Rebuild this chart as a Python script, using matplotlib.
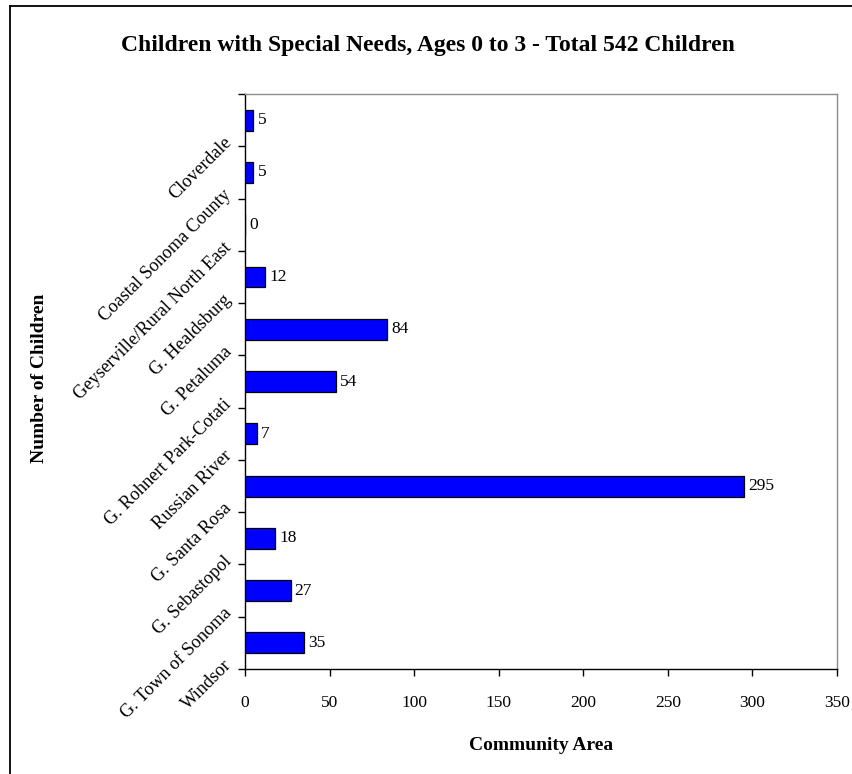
import matplotlib
matplotlib.use("Agg")
import matplotlib.pyplot as plt
from matplotlib.lines import Line2D
from matplotlib.transforms import offset_copy, blended_transform_factory
import numpy as np

categories = [
    "Cloverdale",
    "Coastal Sonoma County",
    "Geyserville/Rural North East",
    "G. Healdsburg",
    "G. Petaluma",
    "G. Rohnert Park-Cotati",
    "Russian River",
    "G. Santa Rosa",
    "G. Sebastopol",
    "G. Town of Sonoma",
    "Windsor",
]
children = [5, 5, 0, 12, 84, 54, 7, 295, 18, 27, 35]
x_ticks = [0, 50, 100, 150, 200, 250, 300, 350]

title = "Children with Special Needs, Ages 0 to 3 - Total 542 Children"
x_title = "Community Area"
y_title = "Number of Children"

plt.rcParams["font.family"] = ["Liberation Serif", "DejaVu Serif"]

fig = plt.figure(figsize=(8.52, 7.74), dpi=100)
ax = fig.add_axes([245 / 852, 1 - 669 / 774, (837 - 245) / 852, (669 - 94) / 774])

n = len(categories)
pos = np.arange(n)
ax.barh(pos, children, height=0.4, color="#0000FF", edgecolor="black", linewidth=0.9, zorder=3)

ax.set_xlim(0, 350)
ax.set_ylim(n - 0.5, -0.5)
ax.set_xticks(x_ticks)
ax.set_xticklabels([str(v) for v in x_ticks], fontsize=12.5)
ax.tick_params(axis="x", direction="out", length=5, width=1, pad=14, color="black")

# category boundaries carry the tick marks; names are drawn separately
ax.set_yticks(np.arange(n + 1) - 0.5)
ax.set_yticklabels([])
ax.tick_params(axis="y", direction="out", length=5, width=1, color="black")

for side in ("top", "right"):
    ax.spines[side].set_color("#8c8c8c")
    ax.spines[side].set_linewidth(1)
for side in ("left", "bottom"):
    ax.spines[side].set_color("black")
    ax.spines[side].set_linewidth(1)

# rotated category names
name_tr = offset_copy(blended_transform_factory(ax.transAxes, ax.transData),
                      fig=fig, x=-16 * 0.72, y=-20 * 0.72, units="points")
for p, name in zip(pos, categories):
    ax.text(0, p, name, transform=name_tr, rotation=45, rotation_mode="anchor",
            ha="right", va="center", fontsize=13.2, clip_on=False)

# value labels at the end of each bar
val_tr = offset_copy(ax.transData, fig=fig, x=4 * 0.72, y=0, units="points")
for p, v in zip(pos, children):
    ax.text(v, p, str(v), transform=val_tr, ha="left", va="center", fontsize=12.5)

fig.text(428 / 852, 1 - 46 / 774, title, ha="center", va="center",
         fontsize=17, fontweight="bold")
fig.text(541 / 852, 1 - 746 / 774, x_title, ha="center", va="center",
         fontsize=14, fontweight="bold")
fig.text(40 / 852, 1 - 378 / 774, y_title, ha="center", va="center",
         rotation=90, fontsize=14, fontweight="bold")

# outer frame (top and left edges)
fig.add_artist(Line2D([10 / 852, 1.0], [1 - 6 / 774, 1 - 6 / 774],
                      transform=fig.transFigure, color="black", linewidth=1.3))
fig.add_artist(Line2D([10 / 852, 10 / 852], [1 - 6 / 774, 0.0],
                      transform=fig.transFigure, color="black", linewidth=1.3))

fig.savefig("out.png", dpi=100)
